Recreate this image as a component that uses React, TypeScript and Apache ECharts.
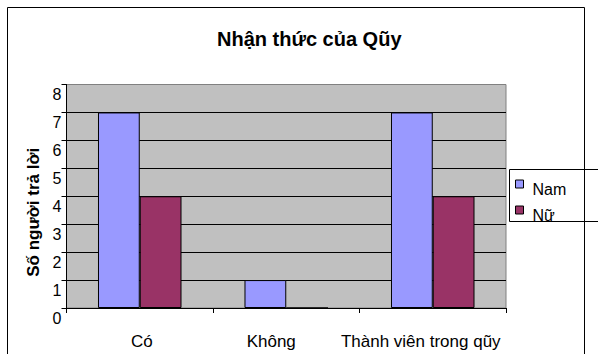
import React, { useEffect, useRef } from "react";
import * as echarts from "echarts";

// Survey answers by gender
const categories = ["Có", "Không", "Thành viên trong qũy"];
const namValues = [7, 1, 7];
const nuValues = [4, 0, 4];
const seriesNames = ["Nam", "Nữ"];
const titleText = "Nhận thức của Qũy";
const yAxisTitle = "Số người trả lời";

// horizontal nudge for each category label (px, negative = left)
const labelShift = [2, -15, -12];

const FONT = "Liberation Sans, Arial, Helvetica, sans-serif";

export default function App() {
  const ref = useRef<HTMLDivElement>(null);

  useEffect(() => {
    document.body.style.margin = "0";
    const chart = echarts.init(ref.current!, null, { renderer: "svg" });

    const rich: Record<string, any> = {};
    categories.forEach((_, i) => {
      const s = labelShift[i];
      rich["c" + i] = {
        fontFamily: FONT,
        fontSize: 17,
        color: "#000",
        padding: s < 0 ? [0, -2 * s, 0, 0] : [0, 0, 0, 2 * s],
      };
    });

    chart.setOption({
      animation: false,
      backgroundColor: "#fff",
      textStyle: { fontFamily: FONT, color: "#000" },
      title: {
        text: titleText,
        left: 217,
        top: 29,
        padding: 0,
        textStyle: { fontFamily: FONT, fontSize: 20, fontWeight: "bold", color: "#000" },
      },
      legend: {
        orient: "vertical",
        left: 515,
        top: 171,
        padding: 0,
        itemWidth: 8,
        itemHeight: 8,
        itemGap: 0,
        icon: "rect",
        data: seriesNames,
        itemStyle: { borderColor: "#000", borderWidth: 1 },
        formatter: "{t|{name}}",
        textStyle: {
          fontFamily: FONT,
          fontSize: 16,
          color: "#000",
          rich: {
            t: {
              fontFamily: FONT,
              fontSize: 16,
              color: "#000",
              lineHeight: 16,
              padding: [10, 0, 0, 4],
            },
          },
        },
      },
      grid: {
        left: 66.5,
        top: 84.5,
        right: 92,
        bottom: 46,
        show: true,
        backgroundColor: "#C0C0C0",
        borderColor: "#808080",
        borderWidth: 1,
        outerBoundsMode: "none",
      },
      xAxis: {
        type: "category",
        data: categories,
        axisLine: { lineStyle: { color: "#000", width: 1 } },
        axisTick: { show: true, length: 5, lineStyle: { color: "#000" } },
        axisLabel: {
          margin: 25,
          interval: 0,
          formatter: (v: string) => `{c${categories.indexOf(v)}|${v}}`,
          rich,
        },
        splitLine: { show: false },
      },
      yAxis: {
        type: "value",
        min: 0,
        max: 8,
        interval: 1,
        name: yAxisTitle,
        nameLocation: "middle",
        nameGap: 20,
        nameRotate: 90,
        nameTextStyle: {
          fontFamily: FONT,
          fontSize: 17,
          fontWeight: "bold",
          color: "#000",
          padding: [0, 32, 0, 0],
        },
        axisLine: { show: true, lineStyle: { color: "#000", width: 1 } },
        axisTick: { show: true, length: 5, lineStyle: { color: "#000" } },
        axisLabel: {
          margin: 5,
          showMinLabel: true,
          showMaxLabel: true,
          fontFamily: FONT,
          fontSize: 16,
          color: "#000",
          verticalAlign: "top",
          lineHeight: 20,
        },
        splitLine: {
          show: true,
          showMaxLine: false,
          lineStyle: { color: "#000", width: 1 },
        },
      },
      series: [
        {
          name: seriesNames[0],
          type: "bar",
          data: namValues,
          barGap: "0%",
          barCategoryGap: "43%",
          itemStyle: { color: "#9999FF", borderColor: "#000", borderWidth: 1 },
        },
        {
          name: seriesNames[1],
          type: "bar",
          data: nuValues,
          barGap: "0%",
          barCategoryGap: "43%",
          itemStyle: { color: "#993366", borderColor: "#000", borderWidth: 1 },
        },
      ],
      graphic: [
        {
          type: "rect",
          silent: true,
          z: 100,
          shape: { x: 7.5, y: 7.5, width: 577, height: 400 },
          style: { fill: "none", stroke: "#000", lineWidth: 1 },
        },
        {
          type: "rect",
          silent: true,
          z: 100,
          shape: { x: 509.5, y: 169.5, width: 100, height: 52 },
          style: { fill: "none", stroke: "#000", lineWidth: 1 },
        },
      ],
    });

    return () => chart.dispose();
  }, []);

  return <div ref={ref} style={{ width: 598, height: 354 }} />;
}
